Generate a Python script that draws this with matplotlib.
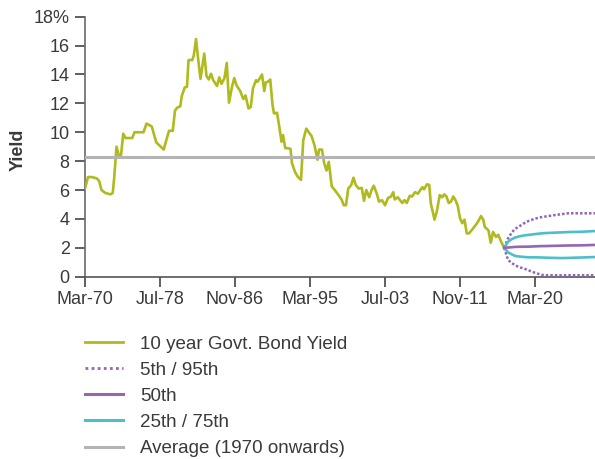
import matplotlib
matplotlib.use("Agg")
import matplotlib.pyplot as plt
from matplotlib.lines import Line2D
import pandas as pd

plt.rcParams['font.family'] = ['Liberation Sans', 'DejaVu Sans']

# Historical 10 year government bond yield (%)
hist_dates = [
    "1970-03", "1970-07", "1970-12", "1971-07", "1971-10", "1972-01", "1972-06", "1973-01",
    "1973-04", "1973-06", "1973-09", "1973-12", "1974-03", "1974-06", "1974-09", "1975-06",
    "1975-09", "1976-09", "1977-01", "1977-08", "1978-02", "1978-12", "1979-02", "1979-07",
    "1979-12", "1980-03", "1980-06", "1980-10", "1980-12", "1981-04", "1981-07", "1981-09",
    "1982-02", "1982-04", "1982-07", "1982-10", "1983-01", "1983-06", "1983-09", "1983-12",
    "1984-03", "1984-06", "1984-11", "1985-02", "1985-05", "1985-09", "1985-12", "1986-03",
    "1986-07", "1986-10", "1987-01", "1987-06", "1987-10", "1988-01", "1988-05", "1988-08",
    "1988-11", "1989-03", "1989-05", "1989-07", "1989-11", "1990-02", "1990-04", "1990-07",
    "1990-10", "1991-01", "1991-03", "1991-07", "1991-10", "1992-01", "1992-03", "1992-06",
    "1992-09", "1993-01", "1993-03", "1993-07", "1993-11", "1994-03", "1994-06", "1994-10",
    "1995-02", "1995-05", "1995-09", "1996-01", "1996-03", "1996-07", "1996-10", "1997-01",
    "1997-04", "1997-08", "1997-12", "1998-05", "1998-09", "1998-12", "1999-03", "1999-06",
    "1999-10", "2000-01", "2000-04", "2000-08", "2000-12", "2001-03", "2001-06", "2001-10",
    "2002-01", "2002-04", "2002-08", "2002-11", "2003-03", "2003-07", "2003-11", "2004-03",
    "2004-06", "2004-08", "2004-12", "2005-03", "2005-06", "2005-09", "2005-12", "2006-04",
    "2006-07", "2006-11", "2007-03", "2007-06", "2007-09", "2007-11", "2008-03", "2008-06",
    "2008-08", "2009-01", "2009-04", "2009-08", "2009-11", "2010-02", "2010-05", "2010-08",
    "2010-11", "2011-02", "2011-05", "2011-08", "2011-11", "2012-02", "2012-05", "2012-08",
    "2012-11", "2013-03", "2013-06", "2013-09", "2013-12", "2014-03", "2014-06", "2014-08",
    "2015-01", "2015-04", "2015-07", "2015-11", "2016-02", "2016-06", "2016-10",
]
hist_yield = [
    6.1, 6.9, 6.9, 6.8, 6.6, 6.0, 5.8, 5.7,
    5.8, 6.9, 9.0, 8.4, 8.4, 9.9, 9.6, 9.6,
    10.0, 10.0, 10.6, 10.4, 9.3, 8.8, 9.2, 10.1,
    10.1, 11.5, 11.7, 11.8, 12.5, 13.1, 13.15, 15.0,
    15.0, 15.3, 16.45, 15.0, 13.7, 15.45, 13.9, 13.65,
    14.05, 13.6, 13.2, 13.8, 13.35, 13.75, 14.8, 12.05,
    13.15, 13.75, 13.25, 12.85, 12.3, 12.55, 11.65, 11.75,
    13.05, 13.6, 13.5, 13.65, 14.0, 12.85, 13.45, 13.5,
    13.65, 11.9, 11.3, 11.35, 10.4, 9.35, 9.8, 8.9,
    8.9, 8.85, 7.85, 7.25, 6.9, 6.7, 9.45, 10.25,
    9.95, 9.75, 9.1, 8.1, 8.8, 8.8, 7.85, 7.35,
    7.95, 6.25, 6.0, 5.65, 5.35, 4.95, 4.95, 6.1,
    6.35, 6.85, 6.35, 6.1, 6.15, 5.25, 6.0, 5.5,
    6.0, 6.3, 5.75, 5.2, 5.3, 4.95, 5.45, 5.55,
    5.85, 5.35, 5.5, 5.3, 5.1, 5.3, 5.1, 5.6,
    5.55, 5.85, 5.75, 6.0, 6.2, 6.05, 6.4, 6.35,
    5.1, 3.95, 4.5, 5.65, 5.5, 5.7, 5.55, 5.1,
    5.2, 5.55, 5.3, 4.9, 4.05, 3.7, 3.95, 3.0,
    3.0, 3.25, 3.45, 3.65, 3.9, 4.2, 3.95, 3.45,
    3.2, 2.35, 3.1, 2.75, 2.9, 2.4, 2.0,
]

# Projected yield percentiles (%)
proj_dates = ["2016-10", "2017-03", "2017-08", "2017-12", "2018-05", "2019-02", "2019-06",
              "2020-03", "2020-12", "2021-04", "2022-06", "2023-03", "2023-11", "2025-05",
              "2026-11"]
p95 = [2.0, 2.65, 3.05, 3.3, 3.45, 3.75, 3.85, 4.02, 4.13, 4.16, 4.27, 4.33, 4.39, 4.39, 4.39]
p75 = [2.0, 2.42, 2.6, 2.7, 2.78, 2.87, 2.89, 2.95, 3.0, 3.02, 3.05, 3.07, 3.09, 3.11, 3.16]
p50 = [2.0, 2.02, 2.04, 2.06, 2.07, 2.08, 2.08, 2.1, 2.12, 2.12, 2.14, 2.15, 2.16, 2.17, 2.2]
p25 = [2.0, 1.69, 1.55, 1.45, 1.4, 1.36, 1.34, 1.34, 1.33, 1.32, 1.3, 1.29, 1.3, 1.33, 1.36]
p5 = [2.0, 1.16, 0.95, 0.81, 0.68, 0.53, 0.45, 0.27, 0.13, 0.1, 0.1, 0.1, 0.1, 0.1, 0.1]

average_1970 = 8.3

tick_every_months = 100
start = pd.Timestamp("1970-03-01")
end = pd.Timestamp("2026-11-01")

GREEN = "#AFBA1E"
PURPLE = "#9466B4"
CYAN = "#4DBFCB"
GREY = "#B4B4B4"
TEXT = "#3a3a3a"


def months_since_start(dates):
    ts = pd.to_datetime(dates)
    return [(t.year - start.year) * 12 + (t.month - start.month) for t in ts]


hx = months_since_start(hist_dates)
px = months_since_start(proj_dates)
x_end = months_since_start([end])[0]

fig = plt.figure(figsize=(5.95, 4.59), dpi=100)
ax = fig.add_axes([85 / 595, 182.3 / 459, 510 / 595, 260 / 459])

ax.plot(hx, hist_yield, color=GREEN, lw=1.9, solid_joinstyle="round", zorder=3)
ax.plot(px, p95, color=PURPLE, lw=1.8, ls=(0, (1, 0.8)), zorder=3)
ax.plot(px, p5, color=PURPLE, lw=1.8, ls=(0, (1, 0.8)), zorder=3)
ax.plot(px, p75, color=CYAN, lw=1.9, zorder=3)
ax.plot(px, p25, color=CYAN, lw=1.9, zorder=3)
ax.plot(px, p50, color=PURPLE, lw=1.9, zorder=3)
ax.axhline(average_1970, color=GREY, lw=2.2, zorder=4)

ax.set_xlim(0, x_end)
ax.set_ylim(0, 18)

xt = list(range(0, x_end, tick_every_months))
ax.set_xticks(xt)
ax.set_xticklabels([(start + pd.DateOffset(months=m)).strftime("%b-%y") for m in xt])
yt = list(range(0, 19, 2))
ax.set_yticks(yt)
ax.set_yticklabels([str(v) if v < 18 else f"{v}%" for v in yt])

for side in ("top", "right"):
    ax.spines[side].set_visible(False)
ax.spines["left"].set_color("#6a6a6a")
ax.spines["bottom"].set_color("#555555")
ax.spines["left"].set_linewidth(1.2)
ax.spines["bottom"].set_linewidth(1.2)
ax.tick_params(axis="both", colors="#444444", labelcolor=TEXT, labelsize=13,
               length=7, width=1.2)
ax.tick_params(axis="y", pad=4)
ax.tick_params(axis="x", pad=3)

fig.text(18 / 595, 1 - 150 / 459, "Yield", rotation=90, ha="center", va="center",
         fontsize=13, fontweight="bold", color=TEXT)

handles = [
    Line2D([], [], color=GREEN, lw=2),
    Line2D([], [], color=PURPLE, lw=2, ls=(0, (1, 1.2))),
    Line2D([], [], color=PURPLE, lw=2.2),
    Line2D([], [], color=CYAN, lw=2.2),
    Line2D([], [], color=GREY, lw=2.2),
]
labels = ["10 year Govt. Bond Yield", "5th / 95th", "50th", "25th / 75th",
          "Average (1970 onwards)"]
leg = fig.legend(handles, labels, loc="upper left",
                 bbox_to_anchor=(85 / 595, 1 - 335.5 / 459), frameon=False,
                 fontsize=13.5, handlelength=2.0, handletextpad=0.95,
                 labelspacing=0.48, borderpad=0, borderaxespad=0)
for t in leg.get_texts():
    t.set_color(TEXT)

fig.savefig("out.png", dpi=100)
